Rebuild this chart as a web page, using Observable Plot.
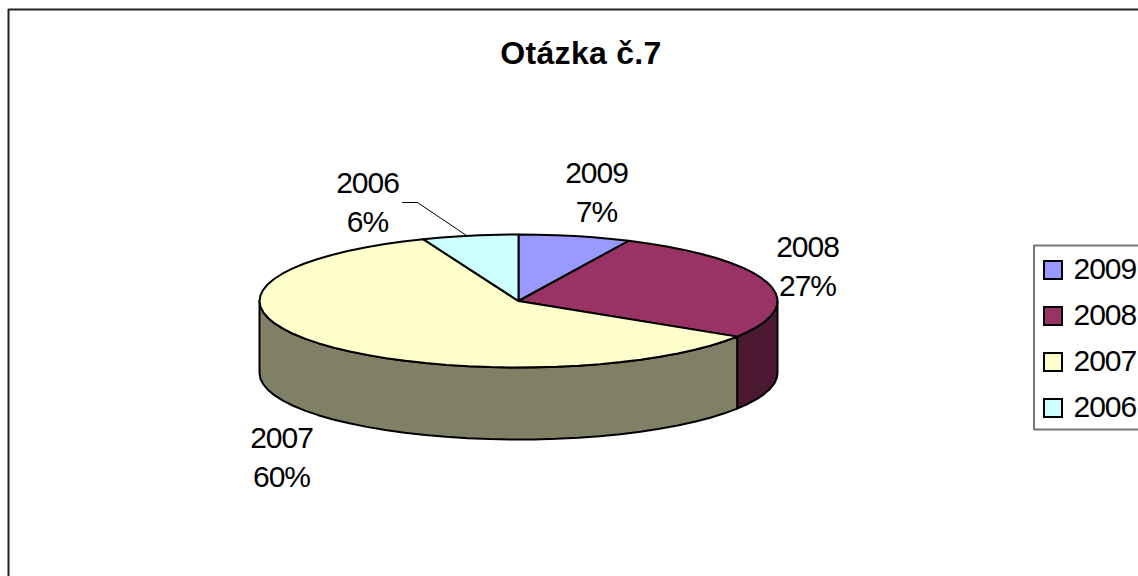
<!DOCTYPE html>
<html>
<head>
<meta charset="utf-8">
<style>
html,body{margin:0;padding:0;background:#fff;overflow:hidden}
svg{display:block}
svg g[aria-label="text"]{letter-spacing:-1px}
svg g[font-weight="bold"]{letter-spacing:0.3px}
</style>
<script src="https://cdn.jsdelivr.net/npm/d3@7"></script>
<script src="https://cdn.jsdelivr.net/npm/@observablehq/plot@0.6"></script>
</head>
<body>
<div id="chart"></div>
<script>
const titleText = "Otázka č.7";
const categories = ["2009", "2008", "2007", "2006"];
const shares = [7, 27, 60, 6];
const topColors = ["#9999ff", "#993366", "#ffffcc", "#ccffff"];
const sideColors = ["#4c1933", "#808066"];

// layout of the pseudo-3D pie (canvas units)
const W = 1138, H = 576;
const cx = 518, cy = 300.5, rx = 259, ry = 66.5, depth = 72;
const labelAt = {"2009": [596, 190], "2008": [807, 264], "2007": [281, 455], "2006": [367, 200]};
const legend = {x0: 1044, x1: 1062, textX: 1073, y0: 261, size: 18, step: 46};
const FONT = "Liberation Sans, Arial, sans-serif";

const total = d3.sum(shares);
let acc = 0;
const slices = categories.map((c, i) => {
  const a0 = acc / total * 2 * Math.PI;
  acc += shares[i];
  return {c, share: shares[i], a0, a1: acc / total * 2 * Math.PI};
});
const rim = (a, dz = 0) => ({x: cx + rx * Math.sin(a), y: cy - ry * Math.cos(a) + dz});
function arc(a0, a1, dz = 0) {
  const n = Math.max(2, Math.ceil((a1 - a0) / (5 * Math.PI / 180)));
  return d3.range(n + 1).map(k => rim(a0 + (a1 - a0) * k / n, dz));
}

// side walls: only the front half of the cylinder (90° to 270°) shows
const polys = [];
for (const s of slices) {
  const a0 = Math.max(s.a0, Math.PI / 2), a1 = Math.min(s.a1, 3 * Math.PI / 2);
  if (a1 <= a0) continue;
  const key = s.c + " side";
  const top = arc(a0, a1), bottom = arc(a0, a1, depth).reverse();
  [...top, ...bottom, top[0]].forEach(p => polys.push({...p, key}));
}
// top faces
for (const s of slices) {
  const centre = {x: cx, y: cy};
  [centre, ...arc(s.a0, s.a1), centre].forEach(p => polys.push({...p, key: s.c}));
}

const sideKeys = slices.filter(s => Math.max(s.a0, Math.PI/2) < Math.min(s.a1, 3*Math.PI/2)).map(s => s.c + " side");

const legendRows = categories.map((c, i) => ({
  c,
  y1: legend.y0 + i * legend.step,
  y2: legend.y0 + i * legend.step + legend.size,
  x1: legend.x0, x2: legend.x1
}));

const plot = Plot.plot({
  width: W, height: H,
  margin: 0,
  style: {background: "#fff", fontFamily: FONT},
  x: {domain: [0, W], range: [0, W], axis: null},
  y: {domain: [0, H], range: [0, H], axis: null},
  color: {domain: [...categories, ...sideKeys], range: [...topColors, ...sideColors]},
  marks: [
    // chart area border
    Plot.line([{x: 8, y: H + 4}, {x: 8, y: 9}, {x: W + 4, y: 9}], {x: "x", y: "y", stroke: "#222", strokeWidth: 2}),
    // pie
    Plot.line(polys, {x: "x", y: "y", z: "key", fill: "key", stroke: "#000", strokeWidth: 2, strokeLinejoin: "round"}),
    // leader line of the 2006 label
    Plot.line([{x: 402, y: 202}, {x: 417, y: 202}, {x: 466, y: 235}], {x: "x", y: "y", stroke: "#000", strokeWidth: 1}),
    // data labels
    Plot.text(slices, {
      x: d => labelAt[d.c][0], y: d => labelAt[d.c][1],
      text: d => `${d.c}\n${d.share}%`,
      fontSize: 30, lineHeight: 1.3, fill: "#000", textAnchor: "middle", lineAnchor: "middle"
    }),
    // title
    Plot.text([titleText], {x: () => 580.5, y: () => 53, text: d => d, fontSize: 32, fontWeight: "bold", fill: "#000", textAnchor: "middle", lineAnchor: "middle"}),
    // legend
    Plot.line([{x: W + 4, y: 245}, {x: 1033.5, y: 245}, {x: 1033.5, y: 429}, {x: W + 4, y: 429}], {x: "x", y: "y", stroke: "#777", strokeWidth: 2}),
    Plot.rect(legendRows, {x1: "x1", x2: "x2", y1: "y1", y2: "y2", fill: "c", stroke: "#000", strokeWidth: 2}),
    Plot.text(legendRows, {x: () => legend.textX, y: d => (d.y1 + d.y2) / 2 - 1, text: "c", fontSize: 30, fill: "#000", textAnchor: "start", lineAnchor: "middle"})
  ]
});
document.getElementById("chart").appendChild(plot);
</script>
</body>
</html>
